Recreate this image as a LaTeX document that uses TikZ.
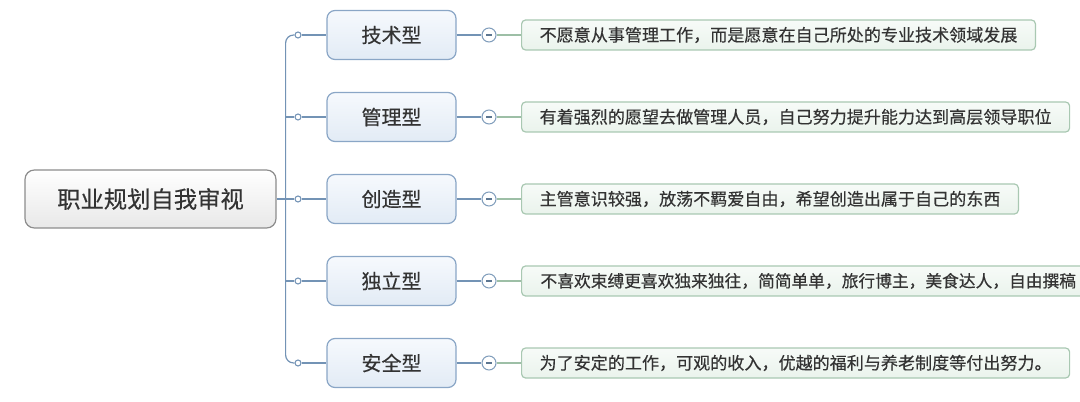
\documentclass[tikz,border=0pt]{standalone}
\usepackage{fontspec}
\setmainfont{Noto Sans CJK SC}[FakeBold=0.35]
\usetikzlibrary{calc}
\definecolor{lineblue}{HTML}{7393B5}
\definecolor{catborder}{HTML}{8AA6C6}
\definecolor{cattop}{HTML}{F6F9FD}
\definecolor{catbot}{HTML}{E2EBF5}
\definecolor{greenline}{HTML}{9DBFA6}
\definecolor{descborder}{HTML}{A9C8B2}
\definecolor{desctop}{HTML}{F7FBF8}
\definecolor{descbot}{HTML}{EAF3EC}
\definecolor{rootborder}{HTML}{8C8C8C}
\definecolor{txt}{HTML}{333333}
\begin{document}
\begin{tikzpicture}[x=0.75pt,y=-0.75pt,
  rootbox/.style={draw=rootborder, line width=0.9pt, rounded corners=7pt,
    top color=white, bottom color=black!9, minimum width=188.25pt, minimum height=43.5pt,
    font=\fontsize{17.5pt}{20pt}\selectfont, text=txt},
  catbox/.style={draw=catborder, line width=0.9pt, rounded corners=6pt,
    top color=cattop, bottom color=catbot, minimum width=96.75pt, minimum height=36.75pt,
    font=\fontsize{15pt}{18pt}\selectfont, text=txt},
  descbox/.style={draw=descborder, line width=0.9pt, rounded corners=3pt,
    top color=desctop, bottom color=descbot, minimum height=22.5pt, inner xsep=13.5pt,
    anchor=west, font=\fontsize{12.8pt}{15pt}\selectfont, text=txt},
  conn/.style={draw=lineblue, line width=0.9pt},
  gconn/.style={draw=greenline, line width=0.9pt},
  dot/.style={circle, draw=lineblue, fill=white, line width=0.8pt, inner sep=0pt, minimum size=4.5pt},
  minus/.style={circle, draw=lineblue!90, fill=white, line width=0.8pt, inner sep=0pt, minimum size=10.5pt,
    path picture={\draw[line width=0.9pt, lineblue!80!black] ($(path picture bounding box.center)+(-2.2pt,0)$) -- ($(path picture bounding box.center)+(2.2pt,0)$);}}
]
\useasboundingbox (0,0) rectangle (1080,402);

\node[rootbox] (root) at (150.5,199) {职业规划自我审视};

\foreach \i/\y/\cat in {1/35/技术型,2/117/管理型,3/199/创造型,4/281/独立型,5/363/安全型}{
  \node[catbox] (cat\i) at (391.5,\y) {\cat};
  \node[dot] (d\i) at (298,\y) {};
  \node[minus] (m\i) at (489,\y) {};
}

\node[descbox] (t1) at (521,35) {不愿意从事管理工作，而是愿意在自己所处的专业技术领域发展};
\node[descbox] (t2) at (521,117) {有着强烈的愿望去做管理人员，自己努力提升能力达到高层领导职位};
\node[descbox] (t3) at (521,199) {主管意识较强，放荡不羁爱自由，希望创造出属于自己的东西};
\node[descbox, minimum width=430pt, font=\fontsize{12.55pt}{15pt}\selectfont] (t4) at (521,281) {不喜欢束缚更喜欢独来独往，简简单单，旅行博主，美食达人，自由撰稿\hfill};
\node[descbox] (t5) at (521,363) {为了安定的工作，可观的收入，优越的福利与养老制度等付出努力。};

\coordinate (trunk) at ($(root.east)+(9,0)$);
\draw[conn, rounded corners=6pt] (d1.west) -| (trunk) |- (d5.west);
\draw[conn] (trunk |- d2) -- (d2.west);
\draw[conn] (trunk |- d4) -- (d4.west);
\draw[conn] (root.east) -- (d3.west);
\foreach \i in {1,...,5}{
  \draw[conn] (d\i.east) -- (cat\i.west);
  \draw[conn] (cat\i.east) -- (m\i.west);
  \draw[gconn] (m\i.east) -- (t\i.west);
}
\end{tikzpicture}
\end{document}
